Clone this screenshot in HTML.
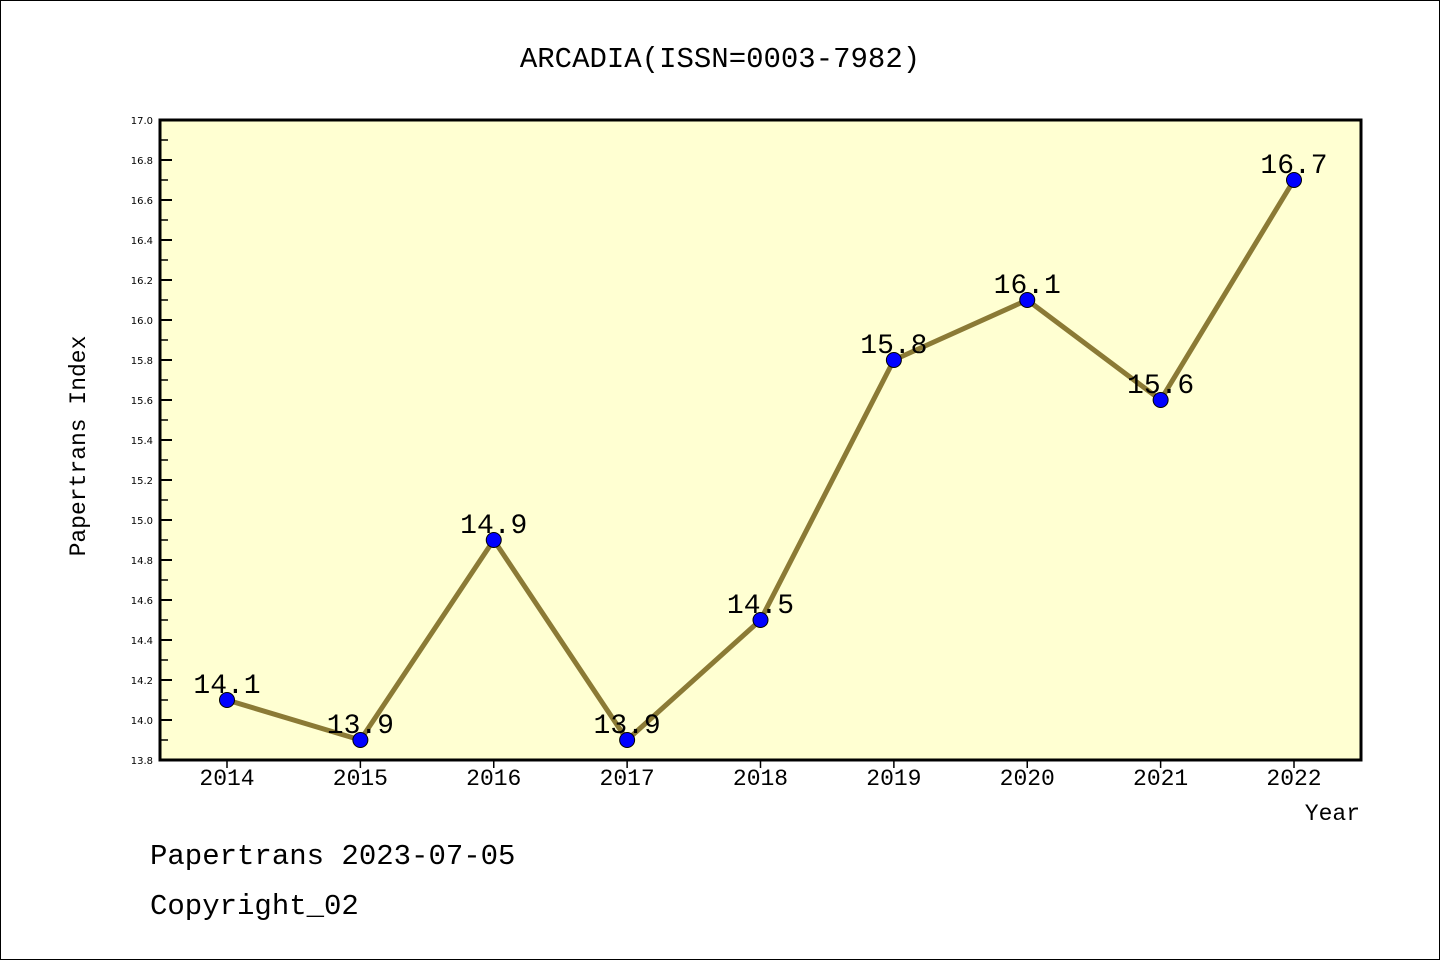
<!DOCTYPE html>
<html><head><meta charset="utf-8"><style>
html,body{margin:0;padding:0;background:#fff}
svg{display:block}
</style></head><body>
<svg width="1440" height="960" xmlns="http://www.w3.org/2000/svg">
<rect x="0.5" y="0.5" width="1439" height="959" fill="#fff" stroke="#000" stroke-width="1"/>
<text x="720" y="67" text-anchor="middle" font-family="'WenQuanYi Zen Hei','Liberation Mono',monospace" font-size="29">ARCADIA(ISSN=0003-7982)</text>
<rect x="160" y="120" width="1201" height="640" fill="#ffffd2"/>
<g id="axes"></g>
<g id="marks"></g>
<rect x="160" y="120" width="1201" height="640" fill="none" stroke="#000" stroke-width="3"/>
<text transform="translate(85,446) rotate(-90)" text-anchor="middle" font-family="'WenQuanYi Zen Hei','Liberation Mono',monospace" font-size="23">Papertrans Index</text>
<text x="1360" y="820" text-anchor="end" font-family="'WenQuanYi Zen Hei','Liberation Mono',monospace" font-size="23">Year</text>
<text x="150" y="864" font-family="'WenQuanYi Zen Hei','Liberation Mono',monospace" font-size="29">Papertrans 2023-07-05</text>
<text x="150" y="914" font-family="'WenQuanYi Zen Hei','Liberation Mono',monospace" font-size="29">Copyright_02</text>
</svg>
<script>
const years = ["2014","2015","2016","2017","2018","2019","2020","2021","2022"];
const values = [14.1,13.9,14.9,13.9,14.5,15.8,16.1,15.6,16.7];
const valueLabels = ["14.1","13.9","14.9","13.9","14.5","15.8","16.1","15.6","16.7"];
const yTicks = [13.8,14.0,14.2,14.4,14.6,14.8,15.0,15.2,15.4,15.6,15.8,16.0,16.2,16.4,16.6,16.8,17.0];
const yMin=13.8,yMax=17.0;
const NS="http://www.w3.org/2000/svg";
function xs(i){return 227+i*(1294-227)/(years.length-1);}
function ys(v){return 760-(v-yMin)/(yMax-yMin)*640;}
function mk(t,a){const e=document.createElementNS(NS,t);for(const k in a)e.setAttribute(k,a[k]);return e;}
const ax=document.getElementById('axes'),mg=document.getElementById('marks');
yTicks.forEach((v,i)=>{
  const y=ys(v);
  const t=mk('line',{x1:160,x2:172,y1:y,y2:y,stroke:'#000','stroke-width':2});
  
  
  ax.appendChild(t);
  if(i<yTicks.length-1){
    const y2=ys(v+0.1);
    const m=mk('line',{x1:160,x2:168,y1:y2,y2:y2,stroke:'#000','stroke-width':1.5});
    
    
    ax.appendChild(m);
  }
  const l=mk('text',{x:153,y:y+4,'text-anchor':'end','font-family':'DejaVu Sans,sans-serif','font-size':10});
  l.textContent=v.toFixed(1);
  
  
  ax.appendChild(l);
});
years.forEach((yr,i)=>{
  const x=xs(i);
  const t=mk('line',{x1:x,x2:x,y1:760,y2:768,stroke:'#000','stroke-width':1.5});
  
  
  ax.appendChild(t);
  const l=mk('text',{x:x,y:785,'text-anchor':'middle','font-family':"'WenQuanYi Zen Hei','Liberation Mono',monospace",'font-size':23});
  l.textContent=yr;
  
  
  ax.appendChild(l);
});
const pts=values.map((v,i)=>xs(i)+','+ys(v)).join(' ');
const line=mk('polyline',{points:pts,fill:'none',stroke:'#8b7a35','stroke-width':5,'stroke-linejoin':'round'});


mg.appendChild(line);
values.forEach((v,i)=>{
  const c=mk('circle',{cx:xs(i),cy:ys(v),r:7.5,fill:'#0000ff',stroke:'#000','stroke-width':1});
  
  
  mg.appendChild(c);
  const l=mk('text',{x:xs(i),y:ys(v)-7,'text-anchor':'middle','font-family':"'WenQuanYi Zen Hei','Liberation Mono',monospace",'font-size':28});
  l.textContent=valueLabels[i];
  
  
  mg.appendChild(l);
});
</script>
</body></html>
